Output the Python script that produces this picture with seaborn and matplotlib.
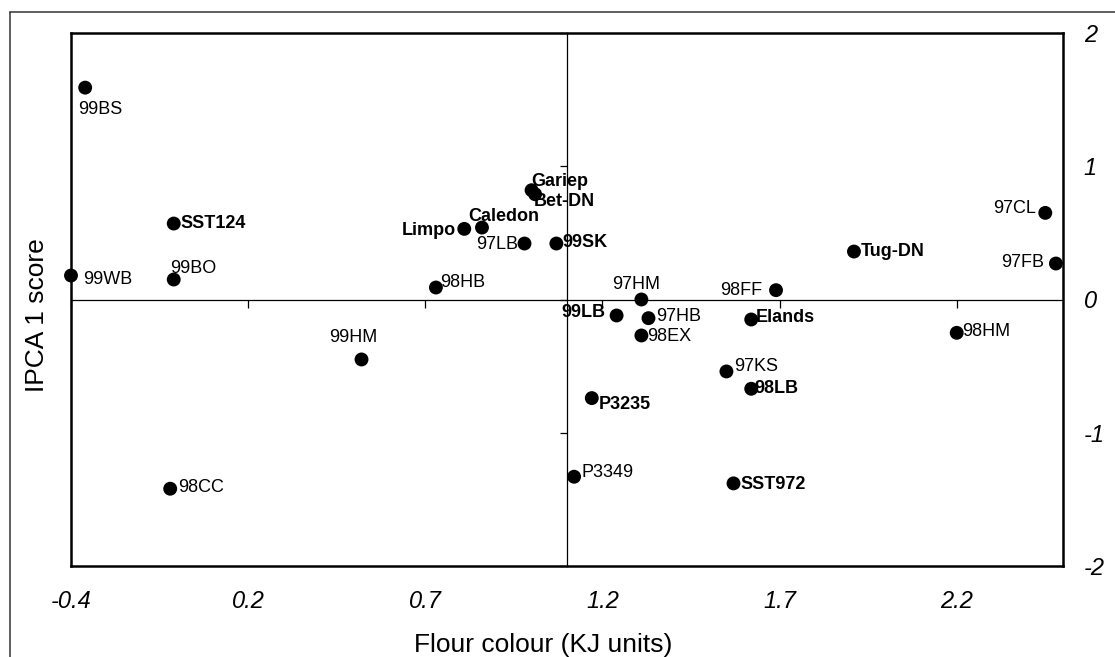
import matplotlib
matplotlib.use("Agg")
import matplotlib.pyplot as plt
import seaborn as sns
import pandas as pd
from matplotlib.lines import Line2D

# ---------------- data ----------------
names = ["99BS", "99WB", "SST124", "99BO", "98CC", "99HM", "98HB", "Limpo",
         "Caledon", "Gariep", "Bet-DN", "97LB", "99SK", "99LB", "97HM", "97HB",
         "98EX", "P3235", "P3349", "Elands", "98FF", "97KS", "98LB", "SST972",
         "Tug-DN", "97CL", "97FB", "98HM"]
flour_colour = [-0.31, -0.35, -0.06, -0.06, -0.07, 0.47, 0.68, 0.76,
                0.81, 0.95, 0.96, 0.93, 1.02, 1.19, 1.26, 1.28,
                1.26, 1.12, 1.07, 1.57, 1.64, 1.50, 1.57, 1.52,
                1.86, 2.40, 2.43, 2.15]
ipca1 = [1.59, 0.18, 0.57, 0.15, -1.42, -0.45, 0.09, 0.53,
         0.54, 0.82, 0.79, 0.42, 0.42, -0.12, 0.00, -0.14,
         -0.27, -0.74, -1.33, -0.15, 0.07, -0.54, -0.67, -1.38,
         0.36, 0.65, 0.27, -0.25]

x_ticks = [-0.35, 0.15, 0.65, 1.15, 1.65, 2.15]
x_tick_labels = ["-0.4", "0.2", "0.7", "1.2", "1.7", "2.2"]
y_ticks = [-2, -1, 0, 1, 2]
y_tick_labels = ["-2", "-1", "0", "1", "2"]
x_limits = (-0.35, 2.45)
y_limits = (-2, 2)
x_cross = 1.05   # where the vertical axis crosses
y_cross = 0.0    # where the horizontal axis crosses

# ---------------- label layout (pixels: dx, dy down, alignment, bold) ----------------
label_layout = {
    "99BS": (-7, 22, "left", False), "99WB": (12, 4, "left", False),
    "SST124": (7, 0, "left", True), "99BO": (-4, -11, "left", False),
    "98CC": (8, -1, "left", False), "99HM": (-8, -22, "center", False),
    "98HB": (4, -5, "left", False), "Limpo": (-8, 2, "right", True),
    "Caledon": (-14, -11, "left", True), "Gariep": (0, -9, "left", True),
    "Bet-DN": (-1, 7, "left", True), "97LB": (-6, 1, "right", False),
    "99SK": (6, -1, "left", True), "99LB": (-11, -3, "right", True),
    "97HM": (-5, -15, "center", False), "97HB": (8, -2, "left", False),
    "98EX": (6, 1, "left", False), "P3235": (7, 6, "left", True),
    "P3349": (7, -4, "left", False), "Elands": (5, -2, "left", True),
    "98FF": (-14, 0, "right", False), "97KS": (8, -5, "left", False),
    "98LB": (3, 0, "left", True), "SST972": (7, 1, "left", True),
    "Tug-DN": (7, 0, "left", True), "97CL": (-9, -4, "right", False),
    "97FB": (-12, -1, "right", False), "98HM": (5, -1, "left", False),
}

df = pd.DataFrame({"name": names, "flour": flour_colour, "ipca": ipca1})

sns.set_style("white")
plt.rcParams["font.family"] = ["Liberation Sans", "DejaVu Sans"]

W, H = 1115, 657
fig = plt.figure(figsize=(W / 100, H / 100), dpi=100)
ax = fig.add_axes([71 / W, 1 - 566 / H, (1063 - 71) / W, (566 - 33) / H])

sns.scatterplot(data=df, x="flour", y="ipca", ax=ax, color="black", s=100,
                edgecolor="none", linewidth=0, clip_on=False, zorder=3, legend=False)

ax.set_xlim(*x_limits)
ax.set_ylim(*y_limits)

# frame
for sp in ax.spines.values():
    sp.set_visible(True)
    sp.set_linewidth(1.8)
    sp.set_color("black")

ax.set_xticks(x_ticks)
ax.set_xticklabels(x_tick_labels, fontstyle="italic", fontsize=17)
ax.set_yticks(y_ticks)
ax.set_yticklabels(y_tick_labels, fontstyle="italic", fontsize=17)
ax.yaxis.tick_right()
ax.tick_params(axis="x", length=0, pad=17, colors="black")
ax.tick_params(axis="y", length=0, pad=15, colors="black")

ax.set_xlabel("Flour colour (KJ units)", fontsize=19, color="black")
ax.set_ylabel("IPCA 1 score", fontsize=19, color="black")
ax.yaxis.set_label_position("left")
ax.xaxis.set_label_coords((543 - 71) / 992, (566 - 645) / 533)
ax.xaxis.label.set_va("center")
ax.yaxis.set_label_coords((37 - 71) / 992, (566 - 315) / 533)
ax.yaxis.label.set_va("center")

# crossing axes with tick marks
secx = ax.secondary_xaxis(y_cross, transform=ax.transData)
secx.set_alignment("bottom")
secx.set_xticks(x_ticks)
secx.tick_params(axis="x", labelbottom=False, length=6, width=0.9, direction="out", color="black")
secx.spines["bottom"].set_linewidth(0.9)
secx.spines["bottom"].set_color("black")

secy = ax.secondary_yaxis(x_cross, transform=ax.transData)
secy.set_alignment("left")
secy.set_yticks(y_ticks)
secy.tick_params(axis="y", labelleft=False, length=5, width=0.9, direction="out", color="black")
secy.spines["left"].set_linewidth(0.9)
secy.spines["left"].set_color("black")

# point labels
for n, xv, yv in zip(names, flour_colour, ipca1):
    dx, dy, ha, bold = label_layout[n]
    ax.annotate(n, (xv, yv), xytext=(dx, -dy), textcoords="offset pixels",
                ha=ha, va="center", fontsize=13,
                fontweight="bold" if bold else "normal", color="black", zorder=4)

# outer border of the scanned figure
fig.add_artist(Line2D([10 / W, 10 / W], [0, 1 - 12 / H], color="#333333", lw=1.1))
fig.add_artist(Line2D([10 / W, 1], [1 - 12 / H, 1 - 12 / H], color="#333333", lw=1.1))

fig.savefig("out.png", dpi=100)
